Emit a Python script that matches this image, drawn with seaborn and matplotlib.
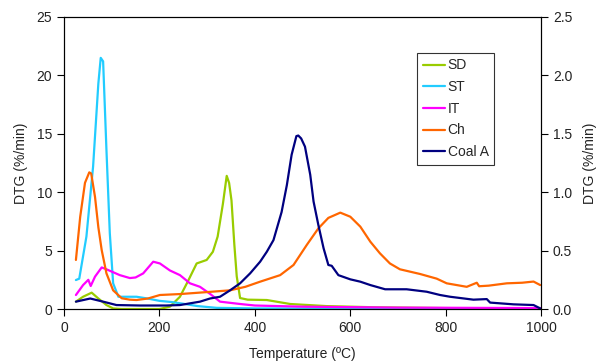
import matplotlib
matplotlib.use("Agg")
import matplotlib.pyplot as plt
import seaborn as sns
import pandas as pd

# Series (temperature in C, DTG in %/min)
sd_t = [25, 40, 58, 72, 89, 103, 120, 160, 200, 222, 243, 260, 278, 299, 312, 322, 333, 341, 346, 351, 357, 362, 369, 385, 425, 474, 550, 650, 800, 1000]
sd_v = [0.63, 1.05, 1.4, 0.9, 0.34, 0.05, 0.0, 0.0, 0.0, 0.2, 1.05, 2.4, 3.9, 4.2, 4.9, 6.2, 9.0, 11.4, 10.8, 9.3, 5.5, 2.8, 0.94, 0.8, 0.77, 0.43, 0.25, 0.15, 0.08, 0.03]

st_t = [25, 32, 47, 61, 72, 77, 82, 89, 96, 103, 114, 127, 152, 175, 200, 225, 250, 280, 320, 400, 600, 1000]
st_v = [2.48, 2.6, 6.2, 12.2, 19.3, 21.5, 21.2, 13.6, 6.5, 2.2, 1.05, 1.05, 1.05, 0.9, 0.7, 0.6, 0.45, 0.25, 0.1, 0.05, 0.03, 0.02]

it_t = [25, 40, 51, 56, 65, 79, 89, 117, 138, 150, 166, 187, 201, 222, 243, 264, 285, 306, 327, 369, 400, 500, 700, 1000]
it_v = [1.2, 2.05, 2.5, 1.97, 2.77, 3.56, 3.4, 2.9, 2.65, 2.7, 3.05, 4.05, 3.9, 3.3, 2.9, 2.2, 1.9, 1.3, 0.63, 0.43, 0.3, 0.2, 0.12, 0.08]

ch_t = [25, 34, 44, 53, 57, 65, 72, 79, 89, 103, 121, 138, 152, 176, 201, 243, 300, 348, 380, 411, 453, 481, 509, 533, 554, 579, 600, 621, 642, 662, 683, 704, 746, 781, 802, 844, 865, 870, 890, 928, 960, 984, 998]
ch_v = [4.2, 7.9, 10.8, 11.7, 11.6, 9.6, 7.0, 5.05, 3.05, 1.6, 0.92, 0.8, 0.77, 0.9, 1.2, 1.28, 1.45, 1.6, 1.9, 2.34, 2.9, 3.77, 5.5, 6.9, 7.8, 8.25, 7.9, 7.05, 5.76, 4.77, 3.9, 3.4, 3.0, 2.6, 2.2, 1.9, 2.25, 1.95, 2.0, 2.2, 2.25, 2.35, 2.05]

coal_t = [25, 55, 82, 110, 159, 214, 243, 285, 306, 327, 348, 369, 390, 411, 425, 439, 456, 467, 477, 487, 491, 497, 505, 516, 523, 533, 544, 554, 561, 575, 600, 621, 642, 673, 718, 760, 788, 809, 858, 886, 893, 942, 984, 998]
coal_v = [0.63, 0.9, 0.63, 0.34, 0.3, 0.3, 0.34, 0.63, 0.9, 1.05, 1.6, 2.2, 3.05, 4.05, 4.9, 5.9, 8.3, 10.6, 13.2, 14.8, 14.85, 14.6, 13.9, 11.5, 9.2, 7.2, 5.2, 3.77, 3.7, 2.9, 2.54, 2.34, 2.05, 1.69, 1.69, 1.48, 1.2, 1.05, 0.8, 0.85, 0.55, 0.4, 0.34, 0.05]

series = ["SD", "ST", "IT", "Ch", "Coal A"]
colors = ["#99CC00", "#22CCFF", "#FF00FF", "#FF6600", "#000080"]

x_ticks = [0, 200, 400, 600, 800, 1000]
y_ticks = [0, 5, 10, 15, 20, 25]
y2_ticks = [0.0, 0.5, 1.0, 1.5, 2.0, 2.5]

frames = []
for name, t, v in zip(series, [sd_t, st_t, it_t, ch_t, coal_t], [sd_v, st_v, it_v, ch_v, coal_v]):
    frames.append(pd.DataFrame({"T": t, "DTG": v, "series": name}))
df = pd.concat(frames, ignore_index=True)

sns.set_style("white")
plt.rcParams["font.family"] = ["Liberation Sans", "DejaVu Sans"]
plt.rcParams["font.size"] = 10

fig = plt.figure(figsize=(5.98, 3.61), dpi=100)
ax = fig.add_axes([0.107, 0.144, 0.798, 0.809])

sns.lineplot(data=df, x="T", y="DTG", hue="series", hue_order=series,
             palette=colors, estimator=None, sort=False, linewidth=1.6, ax=ax)

ax.set_xlim(0, 1000)
ax.set_ylim(0, 25)
ax.set_xticks(x_ticks)
ax.set_yticks(y_ticks)
ax.set_xlabel("Temperature (ºC)", fontsize=10, color="#222222", labelpad=9)
ax.set_ylabel("DTG (%/min)", fontsize=10, color="#222222", labelpad=6)
ax.tick_params(axis="both", direction="out", length=5, width=0.8, colors="black",
               labelcolor="#222222", labelsize=10, bottom=True, left=True)
for s in ax.spines.values():
    s.set_color("black")
    s.set_linewidth(0.8)

ax2 = ax.twinx()
ax2.set_ylim(0, 2.5)
ax2.set_yticks(y2_ticks)
ax2.set_yticklabels([f"{v:.1f}" for v in y2_ticks])
ax2.set_ylabel("DTG (%/min)", fontsize=10, color="#222222", labelpad=8)
ax2.tick_params(axis="y", direction="out", length=5, width=0.8, colors="black",
                labelcolor="#222222", labelsize=10, right=True)
for s in ax2.spines.values():
    s.set_color("black")
    s.set_linewidth(0.8)

leg = ax.legend(loc="upper left", bbox_to_anchor=(0.74, 0.877), frameon=True,
                fancybox=False, edgecolor="black", handlelength=1.6, handletextpad=0.2,
                labelspacing=0.55, borderpad=0.4, borderaxespad=0, fontsize=10)
leg.get_frame().set_linewidth(0.8)
for line in leg.get_lines():
    line.set_linewidth(1.6)

fig.savefig("out.png", dpi=100)
